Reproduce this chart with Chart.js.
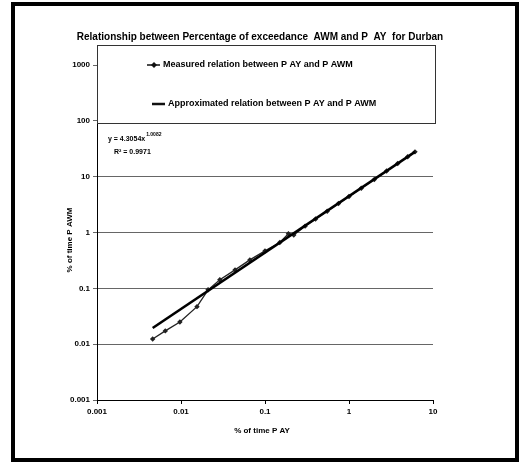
<!DOCTYPE html>
<html>
<head>
<meta charset="utf-8">
<script src="https://cdn.jsdelivr.net/npm/chart.js@4.4.1/dist/chart.umd.min.js"></script>
<style>
  html, body { margin: 0; padding: 0; background: #fff; }
  #wrap { position: relative; width: 521px; height: 464px; }
</style>
</head>
<body>
<div id="wrap"><canvas id="myChart" width="521" height="464"></canvas></div>
<script>
// значения
const titleText = 'Relationship between Percentage of exceedance  AWM and P  AY  for Durban';
const xTitle = '% of time P AY';
const yTitle = '% of time P AWM';

const xTickValues = [0.001, 0.01, 0.1, 1, 10];
const xTickLabels = ['0.001', '0.01', '0.1', '1', '10'];
const yTickValues = [0.001, 0.01, 0.1, 1, 10, 100, 1000];
const yTickLabels = ['0.001', '0.01', '0.1', '1', '10', '100', '1000'];

const measuredLabel = 'Measured relation between P AY and P AWM';
const measuredX = [0.0046, 0.0065, 0.0097, 0.0155, 0.021, 0.029, 0.044, 0.066, 0.10, 0.15, 0.19, 0.22, 0.30, 0.40, 0.55, 0.75, 1.0, 1.4, 2.0, 2.8, 3.8, 5.0, 6.1];
const measuredY = [0.0124, 0.0173, 0.025, 0.047, 0.094, 0.142, 0.214, 0.323, 0.468, 0.66, 0.95, 0.90, 1.30, 1.75, 2.40, 3.30, 4.4, 6.2, 8.9, 12.6, 17.2, 22.8, 27.8];

const approxLabel = 'Approximated relation between P AY and P AWM';
const approxX = [0.0046, 6.1];
const approxY = [0.0195, 27.8];

const eqLine1 = 'y = 4.3054x';
const eqExp = '1.0082';
const eqLine2 = 'R\u00b2 = 0.9971';

const FONT = "'Liberation Sans', Arial, sans-serif";

// рамка, заголовок, легенда и подписи осей
const decorPlugin = {
    id: 'decor',
    beforeDraw(chart) {
        const ctx = chart.ctx;
        ctx.save();
        ctx.fillStyle = '#fff';
        ctx.fillRect(0, 0, chart.width, chart.height);
        ctx.restore();
    },
    afterDraw(chart) {
        const ctx = chart.ctx;
        ctx.save();

        // чёрная рамка вокруг всего графика
        ctx.strokeStyle = '#000';
        ctx.lineWidth = 4;
        ctx.strokeRect(13, 4, 504, 456);

        // заголовок
        ctx.fillStyle = '#000';
        ctx.font = 'bold 10px ' + FONT;
        ctx.textAlign = 'center';
        ctx.textBaseline = 'middle';
        ctx.fillText(titleText, 260, 37);

        // легенда в рамке поверх области графика
        ctx.fillStyle = '#fff';
        ctx.fillRect(97, 45, 338, 78);
        ctx.strokeStyle = '#333';
        ctx.lineWidth = 1;
        ctx.strokeRect(97.5, 45.5, 338, 78);

        const ds = chart.data.datasets;
        ctx.strokeStyle = '#111';
        ctx.lineWidth = 1.5;
        ctx.beginPath();
        ctx.moveTo(147, 65);
        ctx.lineTo(160, 65);
        ctx.stroke();
        ctx.fillStyle = '#111';
        ctx.beginPath();
        ctx.moveTo(154, 62);
        ctx.lineTo(157, 65);
        ctx.lineTo(154, 68);
        ctx.lineTo(151, 65);
        ctx.closePath();
        ctx.fill();

        ctx.lineWidth = 2.5;
        ctx.beginPath();
        ctx.moveTo(152, 104);
        ctx.lineTo(165, 104);
        ctx.stroke();

        ctx.fillStyle = '#000';
        ctx.font = 'bold 9px ' + FONT;
        ctx.textAlign = 'left';
        ctx.fillText(ds[0].label, 163, 65);
        ctx.fillText(ds[1].label, 168, 104);

        // уравнение аппроксимации
        ctx.font = 'bold 7px ' + FONT;
        ctx.fillText(eqLine1, 108, 139);
        const w = ctx.measureText(eqLine1).width;
        ctx.font = 'bold 5px ' + FONT;
        ctx.fillText(eqExp, 108 + w + 1, 135);
        ctx.font = 'bold 7px ' + FONT;
        ctx.fillText(eqLine2, 114, 152);

        // подписи осей
        ctx.font = 'bold 8px ' + FONT;
        ctx.textAlign = 'center';
        ctx.fillText(xTitle, 262, 431);
        ctx.translate(70, 240);
        ctx.rotate(-Math.PI / 2);
        ctx.fillText(yTitle, 0, 0);

        ctx.restore();
    }
};

const plot = document.getElementById('myChart').getContext('2d');
const myChart = new Chart(plot, {
    type: 'scatter',
    data: {
        datasets: [
            {
                label: measuredLabel,
                data: measuredX.map((x, i) => ({ x: x, y: measuredY[i] })),
                showLine: true,
                borderColor: '#222',
                backgroundColor: '#222',
                borderWidth: 1.3,
                pointStyle: 'rectRot',
                pointRadius: 1.8,
                order: 2,
            },
            {
                label: approxLabel,
                data: approxX.map((x, i) => ({ x: x, y: approxY[i] })),
                showLine: true,
                borderColor: '#000',
                borderWidth: 2.6,
                pointRadius: 0,
                order: 1,
            },
        ],
    },
    options: {
        responsive: false,
        animation: false,
        events: [],
        layout: { padding: { left: 0, right: 88, top: 65, bottom: 0 } },
        plugins: {
            legend: { display: false },
            title: { display: false },
            tooltip: { enabled: false },
        },
        scales: {
            x: {
                type: 'logarithmic',
                min: 0.001,
                max: 10,
                afterBuildTicks: (s) => { s.ticks = xTickValues.map(v => ({ value: v })); },
                afterFit: (s) => { s.height = 64; },
                border: { color: '#000', width: 1 },
                grid: { drawOnChartArea: false, drawTicks: true, tickLength: 4, color: '#000' },
                ticks: {
                    autoSkip: false,
                    maxRotation: 0,
                    padding: 3,
                    color: '#000',
                    font: { family: FONT, size: 8, weight: 'bold' },
                    callback: (v) => xTickLabels[xTickValues.indexOf(v)],
                },
            },
            y: {
                type: 'logarithmic',
                min: 0.001,
                max: 1000,
                afterBuildTicks: (s) => { s.ticks = yTickValues.map(v => ({ value: v })); },
                afterFit: (s) => { s.width = 97; },
                border: { color: '#000', width: 1 },
                grid: { color: '#666', lineWidth: 1, tickLength: 4 },
                ticks: {
                    autoSkip: false,
                    padding: 3,
                    color: '#000',
                    font: { family: FONT, size: 8, weight: 'bold' },
                    callback: (v) => yTickLabels[yTickValues.indexOf(v)],
                },
            },
        },
    },
    plugins: [decorPlugin],
});
</script>
</body>
</html>
